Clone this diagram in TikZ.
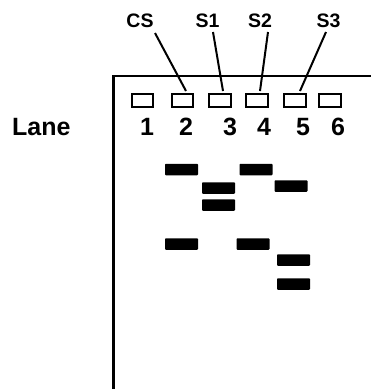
\documentclass[tikz,border=0pt]{standalone}
\usepackage{fontspec}
\setmainfont{Liberation Sans}
\begin{document}
\begin{tikzpicture}[x=1pt,y=-1pt,
  well/.style={draw=black,line width=2.4pt,minimum width=21.5pt,minimum height=12.5pt,inner sep=0pt},
  band/.style={fill=black,minimum width=33pt,minimum height=11.5pt,inner sep=0pt,rounded corners=0.8pt},
  lbl/.style={font=\fontsize{19.5}{19.5}\selectfont\bfseries,anchor=base,inner sep=0pt},
  num/.style={font=\fontsize{25}{25}\selectfont\bfseries,anchor=base,inner sep=0pt},
  lead/.style={line width=2pt},
  plate/.style={line width=2.4pt}]
\useasboundingbox (0,0) rectangle (371,389);
% plate
\coordinate (pb) at (113.5,389);
\coordinate (pc) at (113.5,76);
\coordinate (pr) at (371,76);
\draw[plate] (pb) -- (pc) -- (pr);
% wells
\node[well] (w1) at (142.5,100.5) {};
\node[well] (w2) at (182.5,100.5) {};
\node[well] (w3) at (220,100.5) {};
\node[well] (w4) at (257,100.5) {};
\node[well] (w5) at (295,100.5) {};
\node[well] (w6) at (330,100.5) {};
% lane numbers
\node[num] (n1) at (147,135.5) {1};
\node[num] (n2) at (186,135.5) {2};
\node[num] (n3) at (230,135.5) {3};
\node[num] (n4) at (264,135.5) {4};
\node[num] (n5) at (303,135.5) {5};
\node[num] (n6) at (338,135.5) {6};
\node[num,anchor=base west] (lane) at (12,135.5) {Lane};
% sample labels
\node[lbl] (cs) at (140,27) {CS};
\node[lbl] (s1) at (207.5,27) {S1};
\node[lbl] (s2) at (260,27) {S2};
\node[lbl] (s3) at (328.5,27) {S3};
\coordinate (cst) at (155,33);
\coordinate (s1t) at (213,32);
\coordinate (s2t) at (268,32);
\coordinate (s3t) at (326,32);
\coordinate (csb) at (186,91);
\coordinate (s1b) at (223,91);
\coordinate (s2b) at (260,91);
\coordinate (s3b) at (300,91);
\draw[lead] (cst) -- (csb);
\draw[lead] (s1t) -- (s1b);
\draw[lead] (s2t) -- (s2b);
\draw[lead] (s3t) -- (s3b);
% bands
\node[band] (b2a) at (181.5,169.5) {};
\node[band] (b2b) at (181.5,244) {};
\node[band] (b3a) at (218.5,188) {};
\node[band] (b3b) at (218.5,205) {};
\node[band] (b4a) at (256,169.5) {};
\node[band] (b4b) at (253,244) {};
\node[band] (b5a) at (291,186) {};
\node[band] (b5b) at (293.5,260) {};
\node[band] (b5c) at (293.5,284) {};
\end{tikzpicture}
\end{document}
